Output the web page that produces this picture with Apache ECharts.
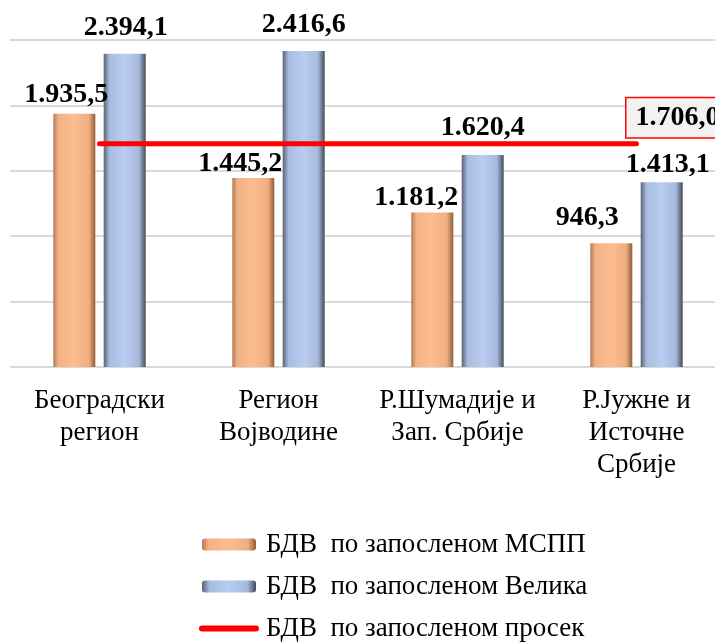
<!DOCTYPE html>
<html>
<head>
<meta charset="utf-8">
<script src="https://cdn.jsdelivr.net/npm/echarts@6/dist/echarts.min.js"></script>
<style>
  html, body { margin: 0; padding: 0; background: #fff; }
  #chart { width: 715px; height: 642px; }
</style>
</head>
<body>
<div id="chart"></div>
<script>
const categories = ['Београдски\nрегион', 'Регион\nВојводине', 'Р.Шумадије и\nЗап. Србије', 'Р.Јужне и\nИсточне\nСрбије'];
const smeValues = [1935.5, 1445.2, 1181.2, 946.3];
const largeValues = [2394.1, 2416.6, 1620.4, 1413.1];
const averageValues = [1706.0, 1706.0, 1706.0, 1706.0];
const seriesNames = ['БДВ  по запосленом МСПП', 'БДВ  по запосленом Велика', 'БДВ  по запосленом просек'];
const yMin = 0, yMax = 2500, yInterval = 500;

// label offsets (layout only)
const smeLabelOffsets = [[-8, 0], [-13, 5], [-16, 4], [-24, -6]];
const largeLabelOffsets = [[1, -7], [0, -7], [0, -8], [6, 2]];

const FONT = "'Liberation Serif', 'Times New Roman', serif";

function fmt(v) {
  const s = Number(v).toFixed(1);
  const parts = s.split('.');
  return parts[0].replace(/\B(?=(\d{3})+(?!\d))/g, '.') + ',' + parts[1];
}

function withOffsets(values, offsets) {
  return values.map((v, i) => ({ value: v, label: { offset: offsets[i] } }));
}

const labelStyle = {
  show: true,
  position: 'top',
  distance: 5,
  fontFamily: FONT,
  fontWeight: 'bold',
  fontSize: 28,
  color: '#000',
  formatter: p => fmt(p.value)
};

const orangeGrad = new echarts.graphic.LinearGradient(0, 0, 1, 0, [
  { offset: 0, color: '#b07a55' },
  { offset: 0.12, color: '#f3b286' },
  { offset: 0.5, color: '#fbbd90' },
  { offset: 0.85, color: '#f0ae80' },
  { offset: 1, color: '#8f5d3d' }
]);
const blueGrad = new echarts.graphic.LinearGradient(0, 0, 1, 0, [
  { offset: 0, color: '#5b6272' },
  { offset: 0.14, color: '#a8bcdf' },
  { offset: 0.5, color: '#b9cdf0' },
  { offset: 0.84, color: '#a6b9dc' },
  { offset: 1, color: '#434a58' }
]);

const chart = echarts.init(document.getElementById('chart'));
chart.setOption({
  animation: false,
  backgroundColor: '#fff',
  grid: { left: 10, top: 40, right: -11, height: 327, containLabel: false, outerBoundsMode: 'none' },
  xAxis: {
    type: 'category',
    data: categories,
    boundaryGap: true,
    axisLine: { show: false },
    axisTick: { show: false },
    axisLabel: {
      interval: 0,
      fontFamily: FONT,
      fontSize: 27,
      color: '#000',
      lineHeight: 32,
      margin: 18
    }
  },
  yAxis: {
    type: 'value',
    min: yMin,
    max: yMax,
    interval: yInterval,
    axisLabel: { show: false },
    axisLine: { show: false },
    axisTick: { show: false },
    splitLine: { lineStyle: { color: '#d9d9d9', width: 2 } }
  },
  legend: {
    orient: 'vertical',
    left: 199,
    top: 531,
    height: 200,
    padding: 0,
    itemWidth: 54,
    itemHeight: 12,
    itemGap: 15,
    textStyle: { fontFamily: FONT, fontSize: 27, lineHeight: 26, color: '#000', padding: [0, 0, 0, 5] },
    data: [
      { name: seriesNames[0] },
      { name: seriesNames[1] },
      { name: seriesNames[2], lineStyle: { width: 6, cap: 'round', color: '#ff0000' } }
    ]
  },
  series: [
    {
      name: seriesNames[0],
      type: 'bar',
      barWidth: 42,
      barGap: '20%',
      data: withOffsets(smeValues, smeLabelOffsets),
      itemStyle: { color: orangeGrad },
      label: labelStyle
    },
    {
      name: seriesNames[1],
      type: 'bar',
      barWidth: 42,
      barGap: '20%',
      data: withOffsets(largeValues, largeLabelOffsets),
      itemStyle: { color: blueGrad },
      label: labelStyle
    },
    {
      name: seriesNames[2],
      type: 'line',
      data: averageValues,
      symbol: 'none',
      lineStyle: { color: '#ff0000', width: 5, cap: 'round' },
      itemStyle: { color: 'rgba(0,0,0,0)' },
      z: 5,
      endLabel: {
        show: true,
        formatter: p => fmt(p.value),
        fontFamily: FONT,
        fontWeight: 'bold',
        fontSize: 28,
        color: '#000',
        backgroundColor: '#f2f2f2',
        borderColor: '#ff0000',
        borderWidth: 1.5,
        padding: [6, 10, 5, 9],
        offset: [-18, -26]
      }
    }
  ]
});
</script>
</body>
</html>
